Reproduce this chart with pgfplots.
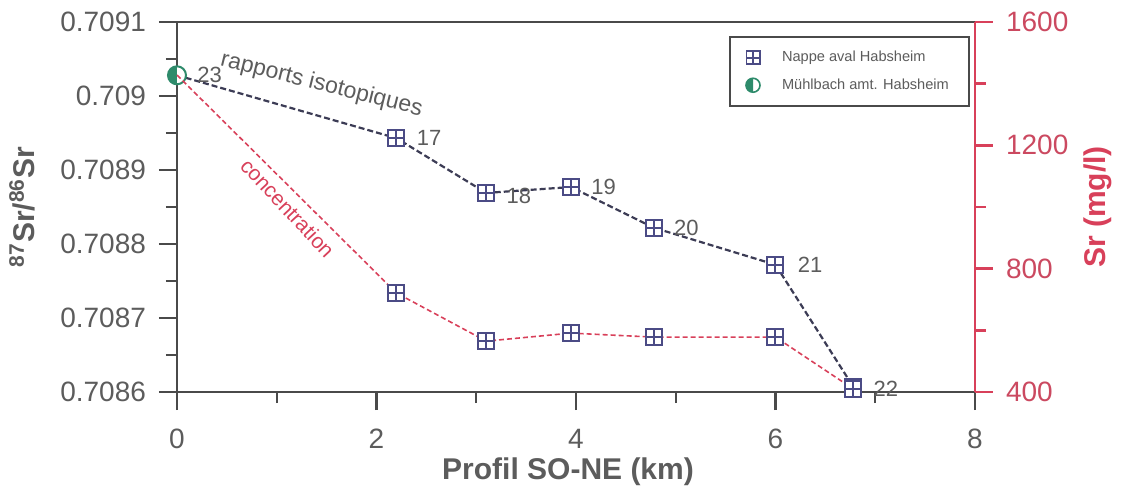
\documentclass[border=0pt]{standalone}
\usepackage{pgfplots}
\pgfplotsset{compat=1.18}
\usepackage{fontspec}
\setmainfont{Liberation Sans}
\usetikzlibrary{plotmarks}

\definecolor{axgray}{HTML}{4A4A4A}
\definecolor{txtgray}{HTML}{5C5C5C}
\definecolor{srred}{HTML}{D8405A}
\definecolor{mkblue}{HTML}{4B4B85}
\definecolor{mkgreen}{HTML}{2E8B6B}
\definecolor{linegray}{HTML}{3C3C55}

\pgfdeclareplotmark{boxplus}{%
  \pgfpathrectangle{\pgfqpoint{-\pgfplotmarksize}{-\pgfplotmarksize}}{\pgfqpoint{2\pgfplotmarksize}{2\pgfplotmarksize}}%
  \pgfusepathqfillstroke
  \pgfpathmoveto{\pgfqpoint{-\pgfplotmarksize}{0pt}}\pgfpathlineto{\pgfqpoint{\pgfplotmarksize}{0pt}}%
  \pgfpathmoveto{\pgfqpoint{0pt}{-\pgfplotmarksize}}\pgfpathlineto{\pgfqpoint{0pt}{\pgfplotmarksize}}%
  \pgfusepathqstroke
}
\pgfdeclareplotmark{halfleft}{%
  \pgfpathcircle{\pgfpointorigin}{\pgfplotmarksize}%
  \pgfusepathqfillstroke
  \begin{pgfscope}
  \pgfsetfillcolor{mkgreen}%
  \pgfpathmoveto{\pgfqpoint{0pt}{\pgfplotmarksize}}%
  \pgfpatharc{90}{270}{\pgfplotmarksize}%
  \pgfpathclose
  \pgfusepathqfill
  \end{pgfscope}
}

\pgfplotstableread{
x y
0    0.709028
2.2  0.708943
3.1  0.708869
3.95 0.708877
4.78 0.708822
6.0  0.708772
6.78 0.708607
}\isotope

\pgfplotstableread{
x c
0    1428
2.2  721
3.1  565
3.95 591
4.78 578
6.0  578
6.78 410
}\conc

\begin{document}
\begin{tikzpicture}
\begin{axis}[
  width=399pt, height=185pt, scale only axis,
  xmin=0, xmax=8, ymin=0.7086, ymax=0.7091,
  xtick={0,2,4,6,8}, minor xtick={1,3,5,7},
  ytick={0.7086,0.7087,0.7088,0.7089,0.709,0.7091},
  yticklabels={0.7086,0.7087,0.7088,0.7089,0.709,0.7091},
  minor ytick={0.70865,0.70875,0.70885,0.70895,0.70905},
  tick pos=left,
  tick align=outside,
  major tick length=9pt, minor tick length=5.5pt,
  axis line style={axgray, line width=1.2pt},
  tick style={axgray, line width=1.2pt},
  tick label style={font=\fontsize{14}{16}\selectfont, text=txtgray},
  xticklabel style={yshift=-6pt},
  yticklabel style={xshift=-3pt},
  /pgf/number format/assume math mode=true,
  xlabel={Profil SO-NE (km)},
  ylabel={\textsuperscript{87}Sr/\textsuperscript{86}Sr},
  xlabel style={at={(axis description cs:0.49,-0.216)}, anchor=center},
  ylabel style={at={(axis description cs:-0.194,0.5)}, anchor=center},
  label style={font=\fontsize{15}{17}\selectfont\bfseries, text=txtgray},
  clip=false,
]
\addplot[linegray, dashed, dash pattern=on 3pt off 1.5pt, line width=1.1pt,
  mark=boxplus, mark indices={2,3,4,5,6,7},
  mark options={solid, draw=mkblue, fill=white, line width=1pt}, mark size=4pt]
  table[x=x, y=y] {\isotope};
\addplot[only marks, mark=halfleft,
  mark options={draw=mkgreen, fill=white, line width=1pt}, mark size=4.5pt]
  coordinates {(0,0.709028)};
\begin{scope}[every node/.style={font=\fontsize{11}{13}\selectfont, text=txtgray, anchor=west, inner sep=0pt}]
\node at (axis cs:0.2,0.709028) {23};
\node at (axis cs:2.4,0.708943) {17};
\node at (axis cs:3.3,0.708865) {18};
\node at (axis cs:4.15,0.708877) {19};
\node at (axis cs:4.98,0.708822) {20};
\node at (axis cs:6.22,0.708772) {21};
\node at (axis cs:6.98,0.708604) {22};
\end{scope}
\node[font=\fontsize{11.5}{13}\selectfont, text=txtgray, rotate=-14] at (axis cs:1.45,0.7090149) {rapports isotopiques};
\node[font=\fontsize{10.5}{12}\selectfont, text=srred, rotate=-47] at (axis cs:1.11,0.7088486) {concentration};
\end{axis}

\begin{axis}[
  width=399pt, height=185pt, scale only axis,
  xmin=0, xmax=8, ymin=400, ymax=1600,
  axis x line=none, axis y line*=right,
  ytick={400,800,1200,1600}, minor ytick={600,1000,1400},
  tick align=outside,
  major tick length=9pt, minor tick length=5.5pt,
  axis line style={srred, line width=1.2pt},
  tick style={srred, line width=1.2pt},
  tick label style={font=\fontsize{14}{16}\selectfont, text=srred!85!gray},
  yticklabel style={xshift=3pt},
  /pgf/number format/assume math mode=true,
  /pgf/number format/1000 sep={},
  ylabel={Sr (mg/l)},
  ylabel style={at={(axis description cs:1.154,0.5)}, anchor=center},
  label style={font=\fontsize{15}{17}\selectfont\bfseries, text=srred},
  legend style={at={(0.692,0.962)}, anchor=north west, draw=axgray, line width=0.8pt,
    font=\fontsize{7.3}{9}\selectfont, text=txtgray, inner xsep=8pt, inner ysep=5pt,
    row sep=3pt, /tikz/every odd column/.append style={column sep=9pt}},
  legend cell align=left,
  clip=false,
]
\addlegendimage{only marks, mark=boxplus, mark options={draw=mkblue, fill=white, line width=0.9pt}, mark size=3.3pt}
\addlegendentry{Nappe aval Habsheim}
\addlegendimage{only marks, mark=halfleft, mark options={draw=mkgreen, fill=white, line width=0.8pt}, mark size=3.5pt}
\addlegendentry{Mühlbach amt. Habsheim}
\addplot[forget plot, srred, dashed, dash pattern=on 2.5pt off 1.5pt, line width=0.8pt,
  mark=boxplus, mark indices={2,3,4,5,6,7},
  mark options={solid, draw=mkblue, fill=white, line width=1pt}, mark size=4pt]
  table[x=x, y=c] {\conc};
\path (axis description cs:-0.2218,1.0595) rectangle (axis description cs:1.1855,-0.265);
\end{axis}
\end{tikzpicture}
\end{document}
